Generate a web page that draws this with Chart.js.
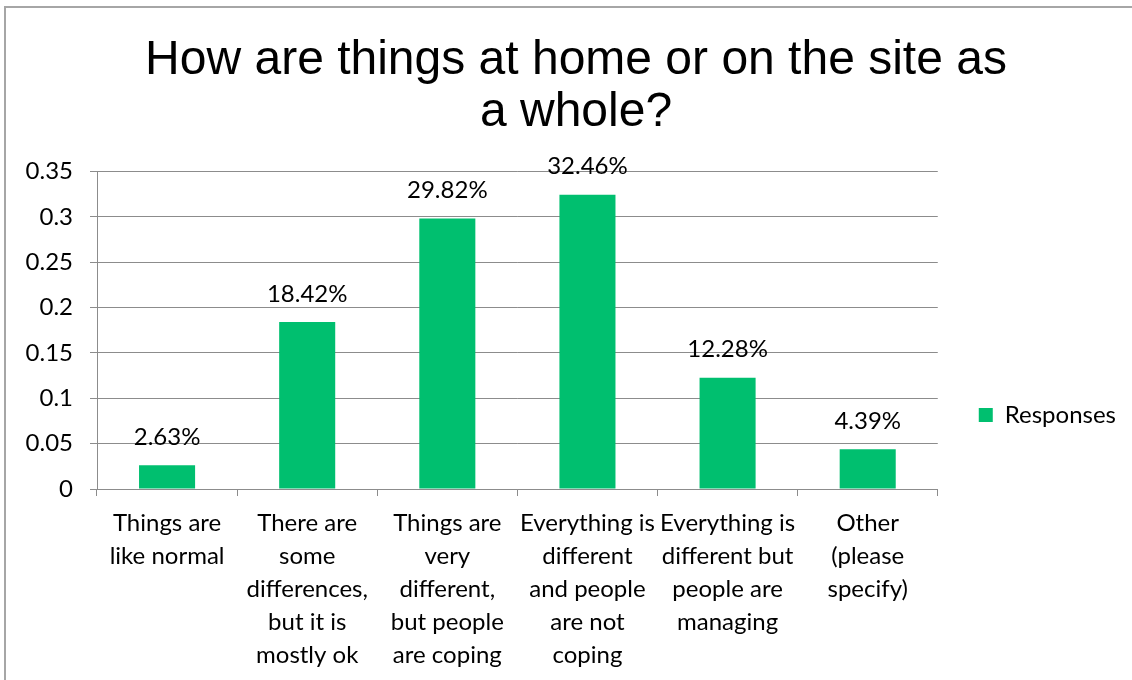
<!DOCTYPE html>
<html>
<head>
<meta charset="utf-8">
<script src="https://cdn.jsdelivr.net/npm/chart.js@4"></script>
<style>
  html, body { margin: 0; padding: 0; background: #fff; overflow: hidden; }
  #marco { position: absolute; left: 4px; top: 6px; width: 1140px; height: 700px; border: 2px solid #a6a6a6; box-sizing: border-box; }
  #grafica { position: absolute; left: 0; top: 0; }
</style>
</head>
<body>
<div id="marco"></div>
<canvas id="grafica" width="1132" height="680"></canvas>
<script>
// Categorias y valores de la encuesta
const categorias = [
  ["Things are", "like normal"],
  ["There are", "some", "differences,", "but it is", "mostly ok"],
  ["Things are", "very", "different,", "but people", "are coping"],
  ["Everything is", "different", "and people", "are not", "coping"],
  ["Everything is", "different but", "people are", "managing"],
  ["Other", "(please", "specify)"]
];
const respuestas = [0.0263, 0.1842, 0.2982, 0.3246, 0.1228, 0.0439];
const ticksY = [0, 0.05, 0.1, 0.15, 0.2, 0.25, 0.3, 0.35];

const verde = "#00bf6f";
const gris = "#8c8c8c";
const fuente = "Lato, 'Liberation Sans', sans-serif";

// Etiquetas de porcentaje encima de cada barra
const etiquetasBarras = {
  id: "etiquetasBarras",
  afterDatasetsDraw(chart) {
    const ctx = chart.ctx;
    const meta = chart.getDatasetMeta(0);
    ctx.save();
    ctx.font = "24px " + fuente;
    ctx.fillStyle = "#000";
    ctx.textAlign = "center";
    ctx.textBaseline = "bottom";
    meta.data.forEach((barra, i) => {
      const texto = (respuestas[i] * 100).toFixed(2) + "%";
      ctx.fillText(texto, barra.x, barra.y - 16);
    });
    ctx.restore();
  }
};

const ctx = document.getElementById("grafica").getContext("2d");
new Chart(ctx, {
  type: "bar",
  data: {
    labels: categorias,
    datasets: [{
      label: "Responses",
      data: respuestas,
      backgroundColor: verde,
      barPercentage: 0.4,
      categoryPercentage: 1.0
    }]
  },
  options: {
    responsive: false,
    animation: false,
    layout: { padding: { left: 26, right: 6, top: 8, bottom: -3 } },
    plugins: {
      title: {
        display: true,
        text: ["How are things at home or on the site as", "a whole?"],
        color: "#000",
        font: { family: "'Liberation Sans', Arial, sans-serif", size: 48, weight: "normal", lineHeight: 1.1 },
        padding: { top: 26, bottom: 32 }
      },
      legend: {
        position: "right",
        // titulo vacio: solo sirve para bajar la leyenda
        title: { display: true, text: " ", font: { size: 1 }, padding: { top: 0, bottom: 138 } },
        labels: {
          color: "#000",
          font: { family: fuente, size: 24 },
          boxWidth: 14,
          boxHeight: 14,
          padding: 41
        }
      },
      tooltip: { enabled: false }
    },
    scales: {
      x: {
        offset: true,
        grid: {
          offset: true,
          drawOnChartArea: false,
          drawTicks: true,
          tickLength: 7,
          color: gris
        },
        border: { color: gris, width: 1 },
        ticks: {
          color: "#000",
          font: { family: fuente, size: 24, lineHeight: 1.375 },
          maxRotation: 0,
          autoSkip: false,
          padding: 11
        }
      },
      y: {
        min: 0,
        max: 0.35,
        afterBuildTicks(eje) {
          eje.ticks = ticksY.map(v => ({ value: v }));
        },
        afterFit(eje) {
          eje.width = 71;
        },
        grid: { color: gris, tickLength: 7 },
        border: { color: gris },
        ticks: {
          color: "#000",
          font: { family: fuente, size: 24 },
          padding: 17,
          callback: v => String(+v.toFixed(2))
        }
      }
    }
  },
  plugins: [etiquetasBarras]
});
</script>
</body>
</html>
